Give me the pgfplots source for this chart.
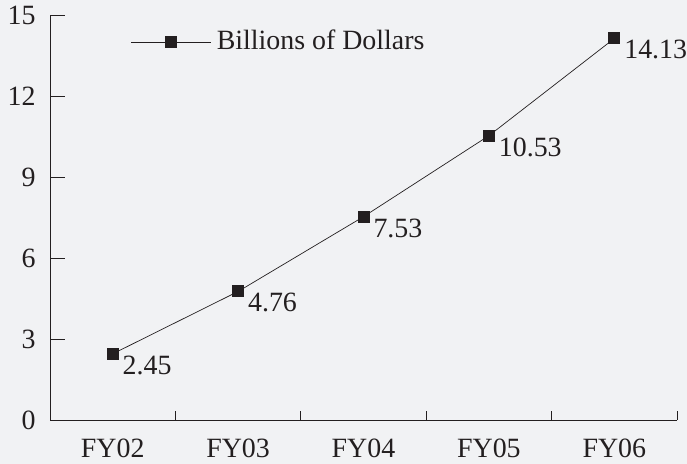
\documentclass[border=0pt]{standalone}
\usepackage{fontspec}
\setmainfont{Liberation Serif}
\usepackage{pgfplots}
\pgfplotsset{compat=1.18}
\definecolor{bg}{RGB}{241,242,244}
\definecolor{mk}{RGB}{35,31,32}
\begin{document}
\fontsize{28}{32}\selectfont
\begin{tikzpicture}
\fill[bg] (-50bp,-44bp) rectangle (637bp,420bp);
\path[use as bounding box] (-50bp,-44bp) rectangle (637bp,420bp);
\begin{axis}[
  at={(0,0)}, anchor=south west,
  scale only axis, width=627bp, height=405bp,
  xmin=-0.5, xmax=4.5, ymin=0, ymax=15,
  axis x line*=bottom, axis y line*=left,
  axis line style={mk, line width=0.9pt},
  tick align=inside,
  xtick={0,1,2,3,4},
  xticklabels={FY02,FY03,FY04,FY05,FY06},
  major x tick style={draw=none},
  minor xtick={-0.5,0.5,1.5,2.5,3.5,4.5},
  minor tick length=9bp,
  minor x tick style={mk, line width=0.8pt},
  ytick={0,3,6,9,12,15},
  major tick length=15bp,
  major y tick style={mk, line width=0.8pt},
  tick label style={text=mk},
  yticklabel style={xshift=-5bp},
  xticklabel style={yshift=-9bp},
  /pgf/number format/assume math mode=true,
  legend style={draw=none, fill=none, at={(0.129,0.933)}, anchor=west, inner sep=0pt, text=mk},
  legend image code/.code={\draw[mark repeat=2,mark phase=2,#1] plot coordinates {(0bp,0bp)(40bp,0bp)(80bp,0bp)};},
]
\addplot[mk, line width=0.7pt, mark=square*, mark size=5.5bp, mark options={fill=mk, draw=mk, line width=0pt},
  point meta=explicit symbolic, nodes near coords,
  nodes near coords style={anchor=north west, inner sep=0pt, xshift=10bp, yshift=-2bp, text=mk}]
  coordinates {(0,2.45) [2.45] (1,4.76) [4.76] (2,7.53) [7.53] (3,10.53) [10.53] (4,14.13) [14.13]};
\addlegendentry{\hspace{3bp}Billions of Dollars}
\end{axis}
\end{tikzpicture}
\end{document}
